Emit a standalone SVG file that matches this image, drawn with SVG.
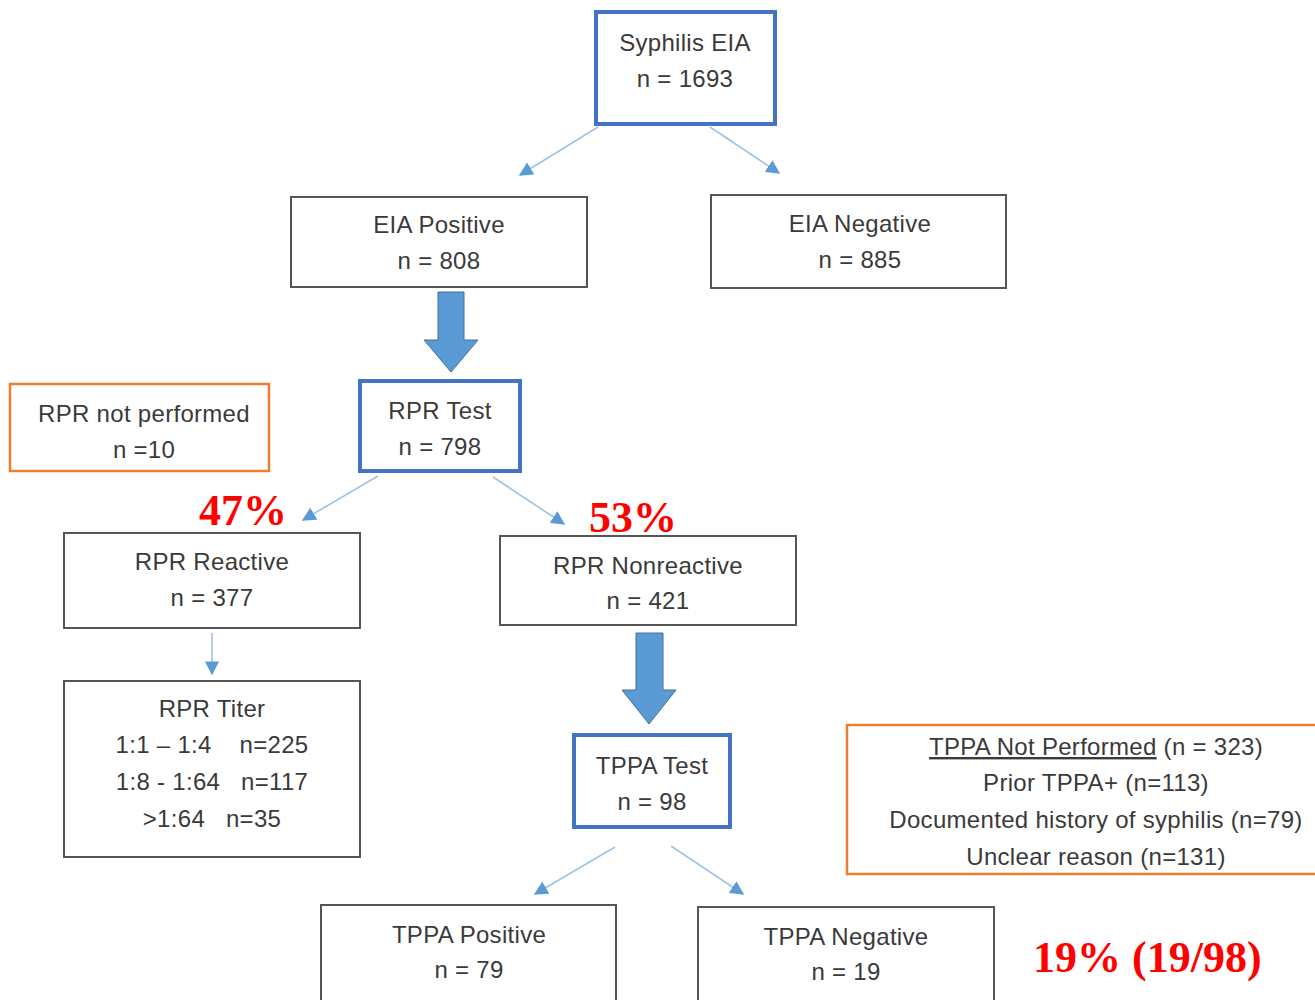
<svg xmlns="http://www.w3.org/2000/svg" width="1315" height="1000" viewBox="0 0 1315 1000">
<defs>
<style>
.t{font-family:"Liberation Sans",Arial,sans-serif;font-size:24px;letter-spacing:0.3px;fill:#3a3a3a;text-anchor:middle;}
.blue{fill:#fff;stroke:#4472C4;stroke-width:4;}
.blk{fill:#fff;stroke:#555;stroke-width:2;}
.org{fill:#fff;stroke:#ED7D31;stroke-width:2.5;}
.pct{font-family:"Liberation Serif","Times New Roman",serif;font-weight:bold;fill:#FF0000;font-size:44px;}
.thin{stroke:#9DC3E6;stroke-width:1.6;fill:none;}
.big{fill:#5B9BD5;stroke:#41719C;stroke-width:1;}
</style>
<marker id="ah2" viewBox="0 0 10 10" refX="9" refY="5" markerWidth="14" markerHeight="14" markerUnits="userSpaceOnUse" orient="auto">
<path d="M0,0 L10,5 L0,10 z" fill="#5B9BD5"/>
</marker>
</defs>
<rect width="1315" height="1000" fill="#fff"/>

<g id="connectors">
<line class="thin" x1="598" y1="127" x2="520" y2="175" marker-end="url(#ah2)"/>
<line class="thin" x1="710" y1="127" x2="779" y2="173" marker-end="url(#ah2)"/>
<path class="big" d="M438,292 H464 V340 H478 L451,372 L424,340 H438 Z"/>
<line class="thin" x1="378" y1="476" x2="303" y2="520" marker-end="url(#ah2)"/>
<line class="thin" x1="493" y1="477" x2="564" y2="524" marker-end="url(#ah2)"/>
<line class="thin" x1="212" y1="633" x2="212" y2="674" marker-end="url(#ah2)"/>
<path class="big" d="M636,633 H663 V690 H676 L649,724 L622,690 H636 Z"/>
<line class="thin" x1="615" y1="847" x2="535" y2="894" marker-end="url(#ah2)"/>
<line class="thin" x1="671" y1="846" x2="743" y2="894" marker-end="url(#ah2)"/>
</g>

<g id="syphilis-eia">
<rect class="blue" x="596" y="12" width="179" height="112"/>
<text class="t" x="685" y="51">Syphilis EIA</text>
<text class="t" x="685" y="87">n = 1693</text>
</g>

<g id="eia-positive">
<rect class="blk" x="291" y="197" width="296" height="90"/>
<text class="t" x="439" y="233">EIA Positive</text>
<text class="t" x="439" y="269">n = 808</text>
</g>

<g id="eia-negative">
<rect class="blk" x="711" y="195" width="295" height="93"/>
<text class="t" x="860" y="232">EIA Negative</text>
<text class="t" x="860" y="268">n = 885</text>
</g>

<g id="rpr-test">
<rect class="blue" x="360" y="381" width="160" height="90"/>
<text class="t" x="440" y="419">RPR Test</text>
<text class="t" x="440" y="455">n = 798</text>
</g>

<g id="rpr-not-performed">
<rect class="org" x="10" y="384" width="259" height="87"/>
<text class="t" x="144" y="422">RPR not performed</text>
<text class="t" x="144" y="458">n =10</text>
</g>

<g id="pct-47">
<text class="pct" x="199" y="525">47%</text>
</g>
<g id="pct-53">
<text class="pct" x="589" y="532">53%</text>
</g>

<g id="rpr-reactive">
<rect class="blk" x="64" y="533" width="296" height="95"/>
<text class="t" x="212" y="570">RPR Reactive</text>
<text class="t" x="212" y="606">n = 377</text>
</g>

<g id="rpr-nonreactive">
<rect class="blk" x="500" y="536" width="296" height="89"/>
<text class="t" x="648" y="574">RPR Nonreactive</text>
<text class="t" x="648" y="609">n = 421</text>
</g>

<g id="rpr-titer">
<rect class="blk" x="64" y="681" width="296" height="176"/>
<text class="t" x="212" y="717">RPR Titer</text>
<text class="t" x="212" y="753" xml:space="preserve">1:1 – 1:4    n=225</text>
<text class="t" x="212" y="790" xml:space="preserve">1:8 - 1:64   n=117</text>
<text class="t" x="212" y="827" xml:space="preserve">&gt;1:64   n=35</text>
</g>

<g id="tppa-test">
<rect class="blue" x="574" y="735" width="156" height="92"/>
<text class="t" x="652" y="774">TPPA Test</text>
<text class="t" x="652" y="810">n = 98</text>
</g>

<g id="tppa-not-performed">
<rect class="org" x="847" y="725" width="475" height="149"/>
<text class="t" x="1096" y="755"><tspan text-decoration="underline">TPPA Not Performed</tspan> (n = 323)</text>
<text class="t" x="1096" y="791">Prior TPPA+ (n=113)</text>
<text class="t" x="1096" y="828">Documented history of syphilis (n=79)</text>
<text class="t" x="1096" y="865">Unclear reason (n=131)</text>
</g>

<g id="tppa-positive">
<rect class="blk" x="321" y="905" width="295" height="100"/>
<text class="t" x="469" y="943">TPPA Positive</text>
<text class="t" x="469" y="978">n = 79</text>
</g>

<g id="tppa-negative">
<rect class="blk" x="698" y="907" width="296" height="100"/>
<text class="t" x="846" y="945">TPPA Negative</text>
<text class="t" x="846" y="980">n = 19</text>
</g>

<g id="pct-19">
<text class="pct" x="1033" y="972">19% (19/98)</text>
</g>
</svg>
